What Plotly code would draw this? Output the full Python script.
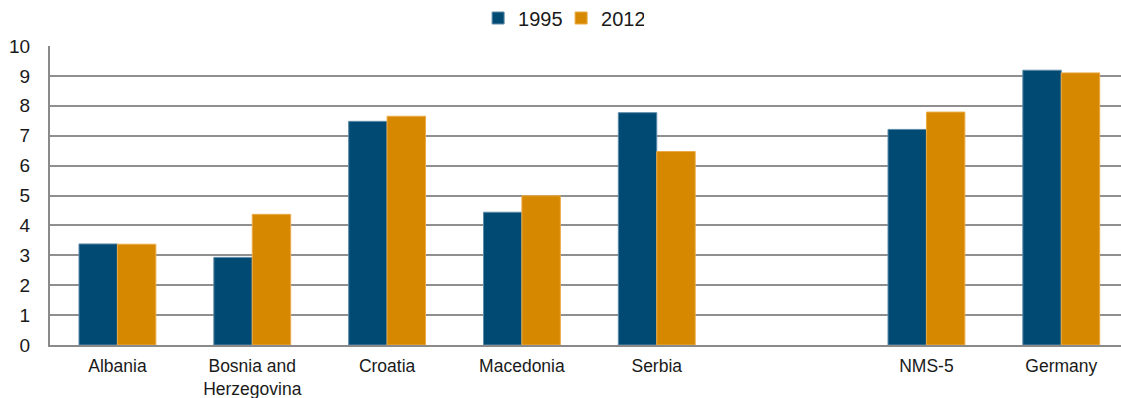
import plotly.graph_objects as go

categories = ["Albania", "Bosnia and<br>Herzegovina", "Croatia", "Macedonia", "Serbia", " ", "NMS-5", "Germany"]
series_names = ["1995", "2012"]
values_1995 = [3.38, 2.93, 7.48, 4.44, 7.77, None, 7.21, 9.19]
values_2012 = [3.37, 4.37, 7.65, 4.99, 6.47, None, 7.79, 9.10]
y_ticks = [0, 1, 2, 3, 4, 5, 6, 7, 8, 9, 10]

FONT = "Arial, 'Liberation Sans', sans-serif"

fig = go.Figure()
fig.add_trace(go.Bar(
    x=categories, y=values_1995, name=series_names[0],
    marker=dict(color="#004A73", line=dict(color="#5E8BA8", width=1)),
))
fig.add_trace(go.Bar(
    x=categories, y=values_2012, name=series_names[1],
    marker=dict(color="#D68800", line=dict(color="#EBAA45", width=1)),
))

fig.update_layout(
    width=1121, height=398,
    margin=dict(l=50, r=0, t=46, b=53, autoexpand=False),
    paper_bgcolor="white", plot_bgcolor="white",
    barmode="group", bargap=0.43, bargroupgap=0,
    font=dict(family=FONT, color="#1a1a1a"),
    legend=dict(
        orientation="h", xref="container", yref="container",
        x=0.4265, xanchor="left", y=1 - 18 / 398, yanchor="middle",
        font=dict(size=20, color="#1a1a1a"),
        itemwidth=30, traceorder="normal",
        entrywidth=38, entrywidthmode="pixels",
    ),
    xaxis=dict(
        type="category", categoryorder="array", categoryarray=categories,
        range=[-0.5, 7.443],
        showline=True, linecolor="#8a8a8a", linewidth=2,
        showgrid=False, ticks="", ticklabelstandoff=4,
        tickfont=dict(size=17.5, color="#1a1a1a"),
    ),
    yaxis=dict(
        range=[0, 10], tickvals=y_ticks,
        showline=True, linecolor="#8a8a8a", linewidth=2,
        showgrid=True, gridcolor="#8f8f8f", gridwidth=1.5,
        zeroline=False, ticks="", ticklabelstandoff=14,
        tickfont=dict(size=19, color="#1a1a1a"),
    ),
)

fig.write_html("out.html")
